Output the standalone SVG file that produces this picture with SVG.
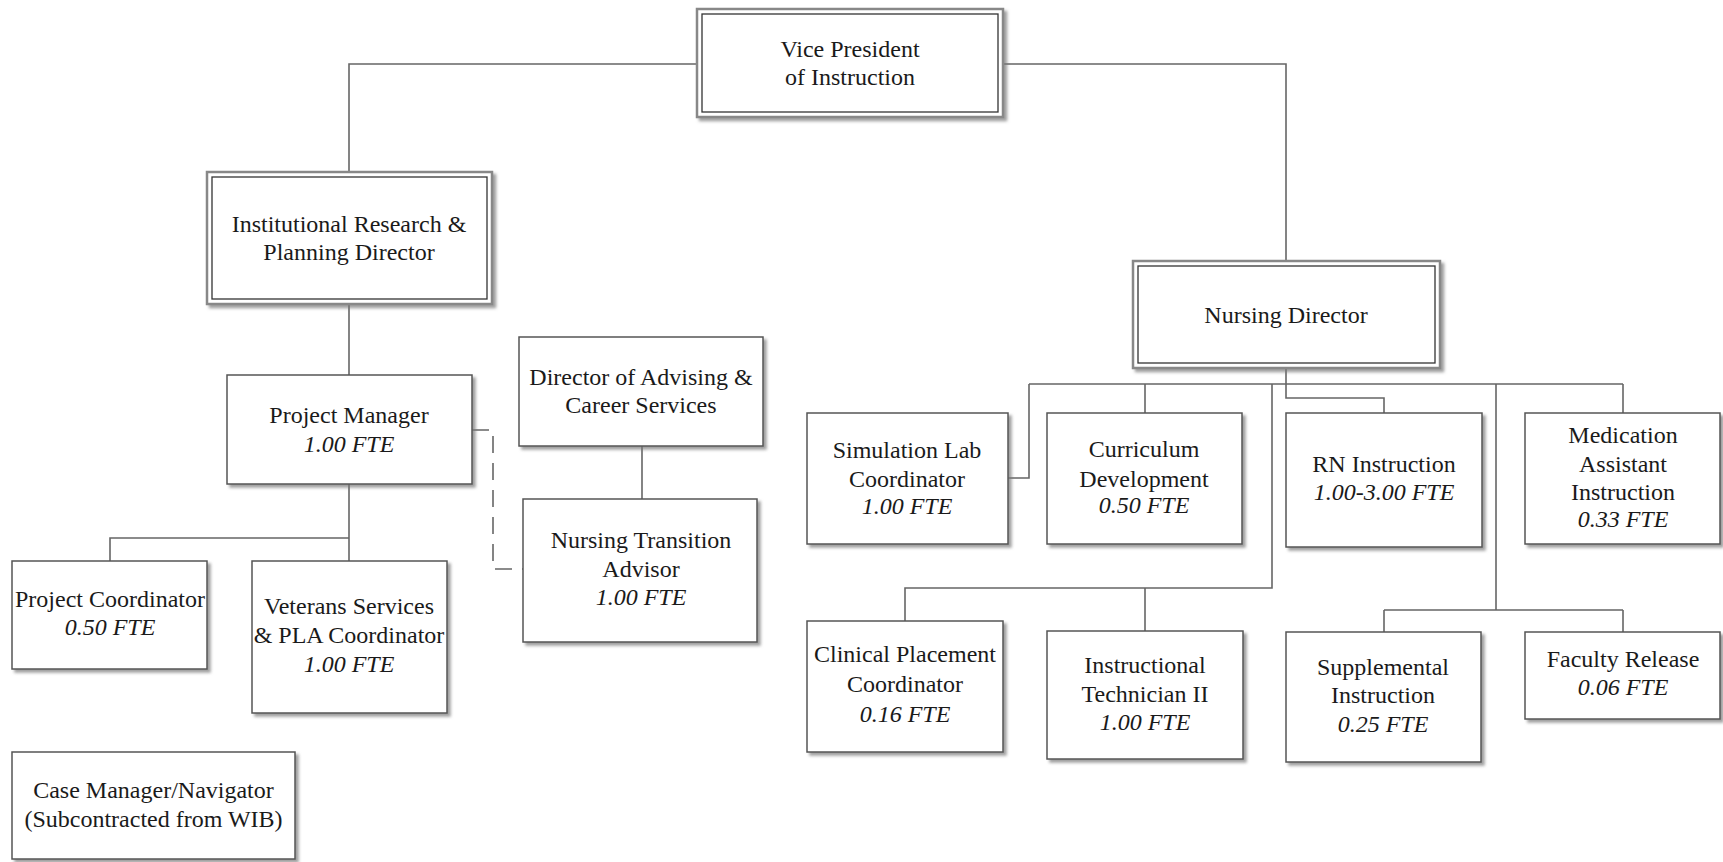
<svg xmlns="http://www.w3.org/2000/svg" width="1723" height="862" viewBox="0 0 1723 862">
<defs>
<filter id="sh" x="-5%" y="-5%" width="115%" height="115%">
<feDropShadow dx="3" dy="3" stdDeviation="1.5" flood-color="#777" flood-opacity="0.7"/>
</filter>
<style>
.box{fill:#fff;stroke:#555;stroke-width:1.5;filter:url(#sh)}
.outer{fill:#fff;stroke:#888;stroke-width:2.5;filter:url(#sh)}
.inner{fill:none;stroke:#333;stroke-width:1.3}
.t{font-family:"Liberation Serif","Times New Roman",serif;font-size:24px;fill:#1a1a1a;text-anchor:middle}
.i{font-style:italic}
.c{fill:none;stroke:#666;stroke-width:1.6}
.d{fill:none;stroke:#666;stroke-width:1.6;stroke-dasharray:17 10}
</style>
</defs>
<rect width="1723" height="862" fill="#fff"/>
<g id="connectors">
<path class="c" d="M697,64 H349 V172"/>
<path class="c" d="M1003,64 H1286 V261"/>
<path class="c" d="M349,304 V375"/>
<path class="c" d="M349,484 V561 M349,538 H110 V561"/>
<path class="c" d="M642,446 V499"/>
<path class="d" d="M472,430 H493 V569 H523"/>
<path class="c" d="M1286,368 V384 M1029,384 H1623 M1029,384 V478 H1008 M1145,384 V413 M1623,384 V413"/>
<path class="c" d="M1286,384 V398 H1384 V413"/>
<path class="c" d="M1272,384 V588 H905 V621 M1145,588 V631"/>
<path class="c" d="M1496,384 V610 M1384,610 H1623 M1384,610 V632 M1623,610 V632"/>
</g>
<g id="vp">
<rect class="outer" x="697" y="9" width="306" height="108"/>
<rect class="inner" x="702" y="14" width="296" height="98"/>
<text class="t" x="850" y="57">Vice President</text>
<text class="t" x="850" y="85">of Instruction</text>
</g>
<g id="ir">
<rect class="outer" x="207" y="172" width="285" height="132"/>
<rect class="inner" x="212" y="177" width="275" height="122"/>
<text class="t" x="349" y="232">Institutional Research &amp;</text>
<text class="t" x="349" y="260">Planning Director</text>
</g>
<g id="nd">
<rect class="outer" x="1133" y="261" width="307" height="107"/>
<rect class="inner" x="1138" y="266" width="297" height="97"/>
<text class="t" x="1286" y="323">Nursing Director</text>
</g>
<g id="pm">
<rect class="box" x="227" y="375" width="245" height="109"/>
<text class="t" x="349" y="423">Project Manager</text>
<text class="t i" x="349" y="452">1.00 FTE</text>
</g>
<g id="pc">
<rect class="box" x="12" y="561" width="195" height="108"/>
<text class="t" x="110" y="607">Project Coordinator</text>
<text class="t i" x="110" y="635">0.50 FTE</text>
</g>
<g id="vet">
<rect class="box" x="252" y="561" width="195" height="152"/>
<text class="t" x="349" y="614">Veterans Services</text>
<text class="t" x="349" y="643">&amp; PLA Coordinator</text>
<text class="t i" x="349" y="672">1.00 FTE</text>
</g>
<g id="cm">
<rect class="box" x="12" y="752" width="283" height="107"/>
<text class="t" x="153.5" y="798">Case Manager/Navigator</text>
<text class="t" x="153.5" y="827">(Subcontracted from WIB)</text>
</g>
<g id="da">
<rect class="box" x="519" y="337" width="244" height="109"/>
<text class="t" x="641" y="385">Director of Advising &amp;</text>
<text class="t" x="641" y="413">Career Services</text>
</g>
<g id="nta">
<rect class="box" x="523" y="499" width="234" height="143"/>
<text class="t" x="641" y="548">Nursing Transition</text>
<text class="t" x="641" y="577">Advisor</text>
<text class="t i" x="641" y="605">1.00 FTE</text>
</g>
<g id="sim">
<rect class="box" x="807" y="413" width="201" height="131"/>
<text class="t" x="907" y="458">Simulation Lab</text>
<text class="t" x="907" y="487">Coordinator</text>
<text class="t i" x="907" y="514">1.00 FTE</text>
</g>
<g id="cur">
<rect class="box" x="1047" y="413" width="195" height="131"/>
<text class="t" x="1144" y="457">Curriculum</text>
<text class="t" x="1144" y="487">Development</text>
<text class="t i" x="1144" y="513">0.50 FTE</text>
</g>
<g id="rn">
<rect class="box" x="1286" y="413" width="196" height="134"/>
<text class="t" x="1384" y="472">RN Instruction</text>
<text class="t i" x="1384" y="500">1.00-3.00 FTE</text>
</g>
<g id="med">
<rect class="box" x="1525" y="413" width="195" height="131"/>
<text class="t" x="1623" y="443">Medication</text>
<text class="t" x="1623" y="472">Assistant</text>
<text class="t" x="1623" y="500">Instruction</text>
<text class="t i" x="1623" y="527">0.33 FTE</text>
</g>
<g id="cpc">
<rect class="box" x="807" y="621" width="196" height="131"/>
<text class="t" x="905" y="662">Clinical Placement</text>
<text class="t" x="905" y="692">Coordinator</text>
<text class="t i" x="905" y="722">0.16 FTE</text>
</g>
<g id="it">
<rect class="box" x="1047" y="631" width="196" height="128"/>
<text class="t" x="1145" y="673">Instructional</text>
<text class="t" x="1145" y="702">Technician II</text>
<text class="t i" x="1145" y="730">1.00 FTE</text>
</g>
<g id="sup">
<rect class="box" x="1286" y="632" width="195" height="130"/>
<text class="t" x="1383" y="675">Supplemental</text>
<text class="t" x="1383" y="703">Instruction</text>
<text class="t i" x="1383" y="732">0.25 FTE</text>
</g>
<g id="fr">
<rect class="box" x="1525" y="632" width="195" height="87"/>
<text class="t" x="1623" y="667">Faculty Release</text>
<text class="t i" x="1623" y="695">0.06 FTE</text>
</g>
</svg>
